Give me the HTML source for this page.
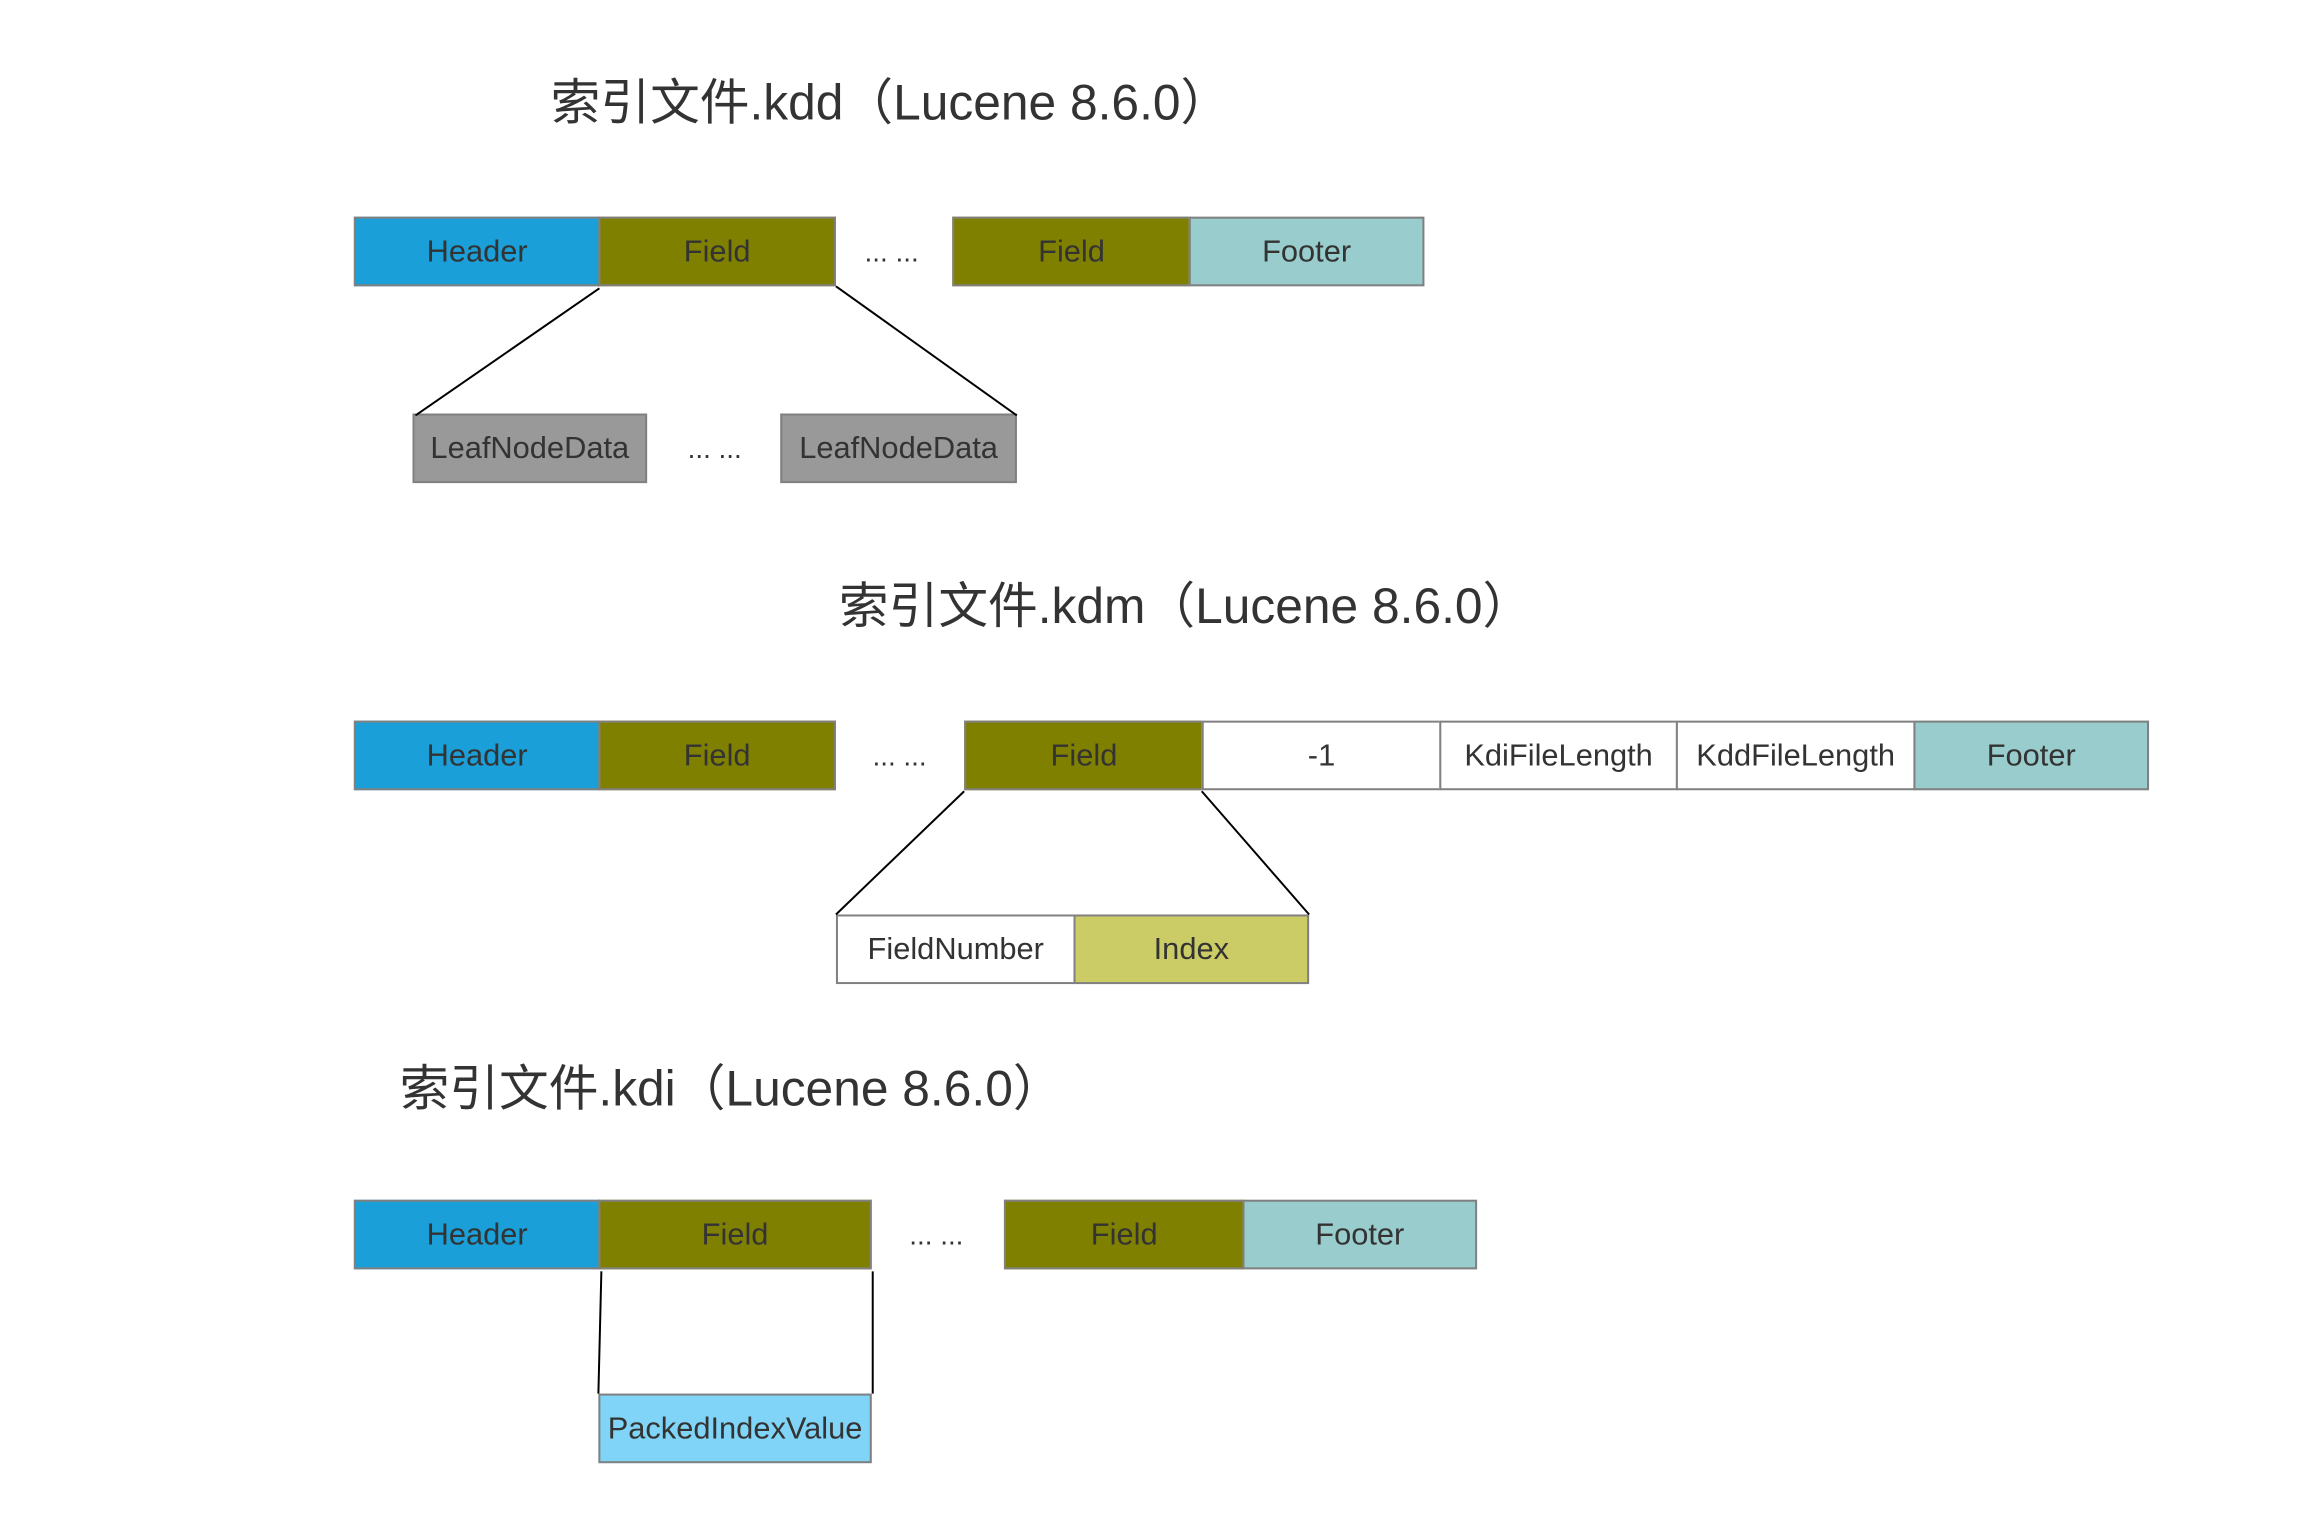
<!DOCTYPE html>
<html><head><meta charset="utf-8"><style>
body{margin:0;width:2302px;height:1530px;background:#fff;position:relative;overflow:hidden;font-family:"Liberation Sans","Noto Sans CJK SC",sans-serif;color:#333}
#w{position:absolute;left:0;top:0;width:2302px;height:1530px;transform:scale(0.994);transform-origin:0 0}
.b{position:absolute;box-sizing:border-box;border:2px solid #808080;display:flex;align-items:center;justify-content:center;font-size:31px;color:#333}
.t{position:absolute;font-size:50px;color:#333;white-space:nowrap;line-height:1}
.d{position:absolute;font-size:28px;transform:translateX(-50%);color:#333}
.H{background:#1a9fd8}.F{background:#808000}.T{background:#99cccc}.G{background:#999}.W{background:#fff}.Y{background:#cccc66}.L{background:#80d4f7}
</style></head><body><div id="w">
<div class="t" style="left:554px;top:78px">索引文件.kdd（Lucene 8.6.0）</div>
<div class="b H" style="left:356px;top:218px;width:248px;height:70px">Header</div>
<div class="b F" style="left:602px;top:218px;width:239px;height:70px">Field</div>
<div class="d" style="left:897px;top:238px">... ...</div>
<div class="b F" style="left:958px;top:218px;width:240px;height:70px">Field</div>
<div class="b T" style="left:1196px;top:218px;width:237px;height:70px">Footer</div>
<div class="b G" style="left:415px;top:416px;width:236px;height:70px">LeafNodeData</div>
<div class="d" style="left:719px;top:436px">... ...</div>
<div class="b G" style="left:785px;top:416px;width:238px;height:70px">LeafNodeData</div>

<div class="t" style="left:844px;top:585px">索引文件.kdm（Lucene 8.6.0）</div>
<div class="b H" style="left:356px;top:725px;width:248px;height:70px">Header</div>
<div class="b F" style="left:602px;top:725px;width:239px;height:70px">Field</div>
<div class="d" style="left:905px;top:745px">... ...</div>
<div class="b F" style="left:970px;top:725px;width:241px;height:70px">Field</div>
<div class="b W" style="left:1209px;top:725px;width:241px;height:70px">-1</div>
<div class="b W" style="left:1448px;top:725px;width:240px;height:70px">KdiFileLength</div>
<div class="b W" style="left:1686px;top:725px;width:241px;height:70px">KddFileLength</div>
<div class="b T" style="left:1925px;top:725px;width:237px;height:70px">Footer</div>
<div class="b W" style="left:841px;top:920px;width:241px;height:70px">FieldNumber</div>
<div class="b Y" style="left:1080px;top:920px;width:237px;height:70px">Index</div>

<div class="t" style="left:402px;top:1070px">索引文件.kdi（Lucene 8.6.0）</div>
<div class="b H" style="left:356px;top:1207px;width:248px;height:70px">Header</div>
<div class="b F" style="left:602px;top:1207px;width:275px;height:70px">Field</div>
<div class="d" style="left:942px;top:1227px">... ...</div>
<div class="b F" style="left:1010px;top:1207px;width:242px;height:70px">Field</div>
<div class="b T" style="left:1250px;top:1207px;width:236px;height:70px">Footer</div>
<div class="b L" style="left:602px;top:1402px;width:275px;height:70px">PackedIndexValue</div>

<svg style="position:absolute;left:0;top:0" width="2302" height="1530">
<g stroke="#000" stroke-width="2" fill="none">
<line x1="603" y1="290" x2="418" y2="418"/>
<line x1="841" y1="288" x2="1023" y2="418"/>
<line x1="970" y1="796" x2="841" y2="920"/>
<line x1="1209" y1="796" x2="1317" y2="920"/>
<line x1="605" y1="1279" x2="602" y2="1402"/>
<line x1="878" y1="1279" x2="878" y2="1402"/>
</g></svg>
</div></body></html>
